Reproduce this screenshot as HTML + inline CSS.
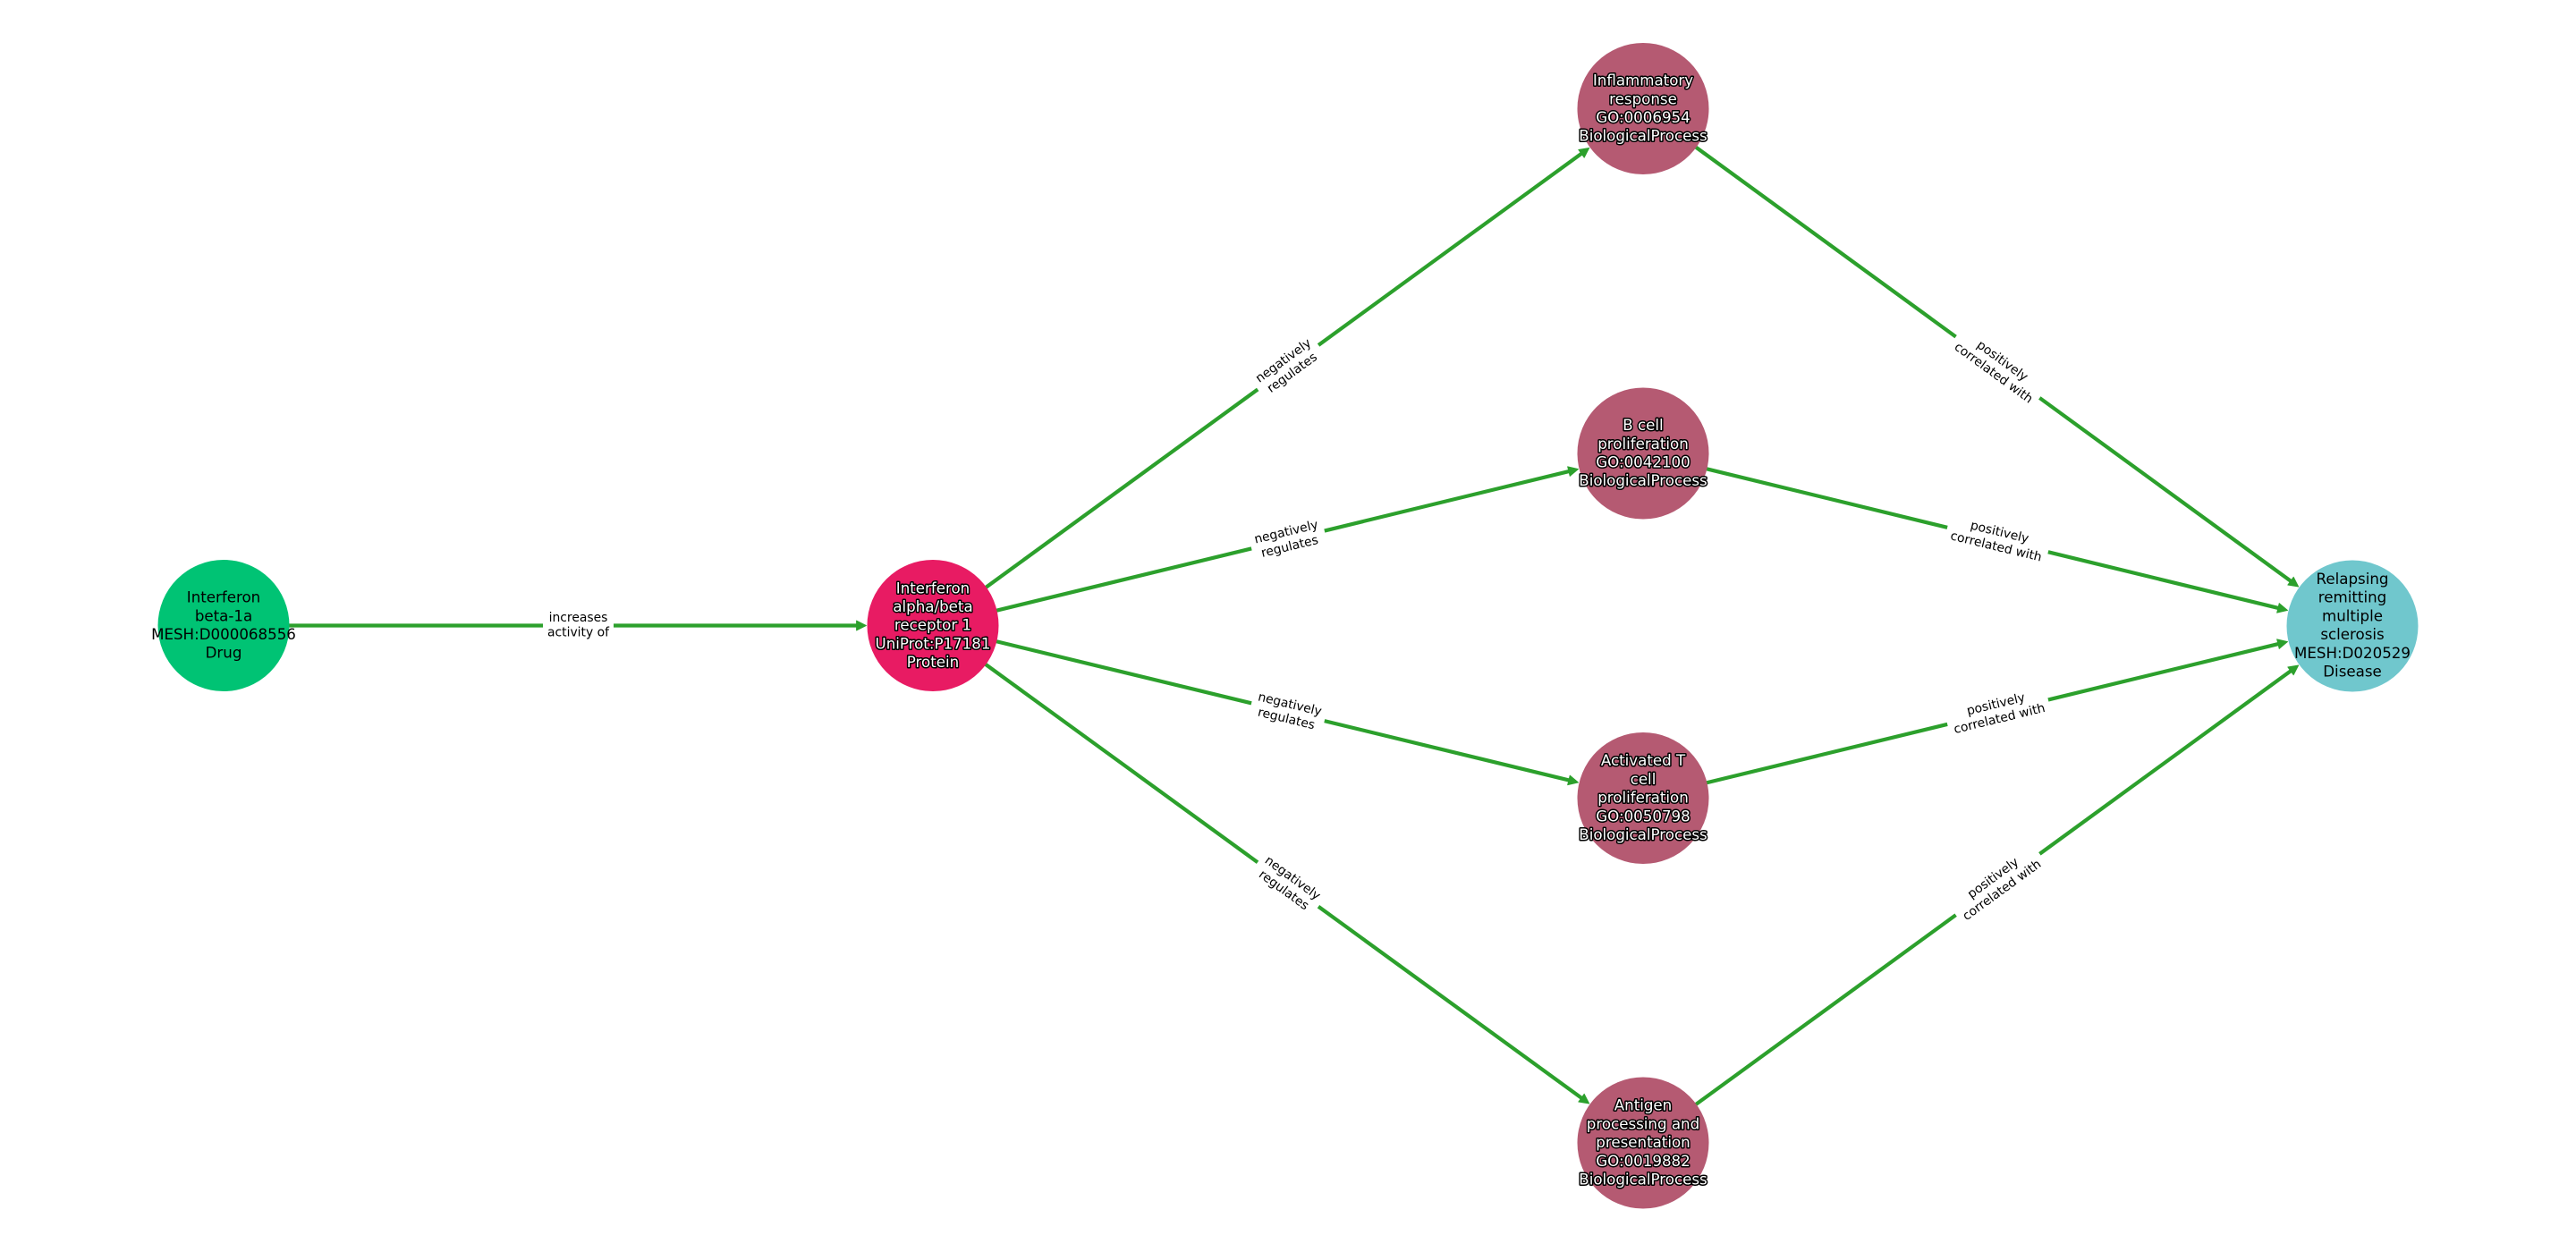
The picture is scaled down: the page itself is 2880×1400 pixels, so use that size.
<!DOCTYPE html>
<html>
<head>
<meta charset="utf-8">
<style>
html,body{margin:0;padding:0;background:#fff;}
svg{display:block;}
text{font-family:"DejaVu Sans","Liberation Sans",sans-serif;text-anchor:middle;}
.n{font-size:16.67px;fill:#000;}
.w{font-size:16.67px;fill:#fff;stroke:#000;stroke-width:3px;paint-order:stroke;stroke-linejoin:round;}
.e{font-size:13.89px;fill:#000;}
line{stroke:#2ca02c;stroke-width:4.2px;marker-end:url(#a);}
</style>
</head>
<body>
<svg xmlns="http://www.w3.org/2000/svg" width="2880" height="1400" viewBox="0 0 2880 1400">
<defs>
<marker id="a" markerUnits="userSpaceOnUse" markerWidth="24" markerHeight="24" refX="10.5" refY="12" orient="auto">
<path d="M4.5,6.5 L15.5,12 L4.5,17.5 Z" fill="#2ca02c" stroke="#2ca02c" stroke-width="0.8" stroke-linejoin="round"/>
</marker>
</defs>
<rect width="2880" height="1400" fill="#fff"/>

<line x1="250" y1="699.5" x2="963.5" y2="699.5"/>
<line x1="1043" y1="700" x2="1772.8" y2="168.3"/>
<line x1="1043" y1="700" x2="1759.7" y2="525.7"/>
<line x1="1043" y1="700" x2="1759.7" y2="873.8"/>
<line x1="1043" y1="700" x2="1772.8" y2="1231.2"/>
<line x1="1837" y1="121.5" x2="2565.8" y2="653.2"/>
<line x1="1837" y1="507" x2="2552.7" y2="681.3"/>
<line x1="1837" y1="892.5" x2="2552.7" y2="718.7"/>
<line x1="1837" y1="1278" x2="2565.8" y2="746.8"/>

<g transform="translate(646.5,699.5)"><rect x="-39.5" y="-17" width="79" height="35" fill="#fff"/><text class="e" y="-4.5">increases</text><text class="e" y="12.2">activity of</text></g>
<g transform="translate(1440,410.5) rotate(-36.1)"><rect x="-42" y="-17" width="84" height="35" fill="#fff"/><text class="e" y="-4.5">negatively</text><text class="e" y="12.2">regulates</text></g>
<g transform="translate(1440,603.5) rotate(-13.6)"><rect x="-42" y="-17" width="84" height="35" fill="#fff"/><text class="e" y="-4.5">negatively</text><text class="e" y="12.2">regulates</text></g>
<g transform="translate(1440,796) rotate(13.6)"><rect x="-42" y="-17" width="84" height="35" fill="#fff"/><text class="e" y="-4.5">negatively</text><text class="e" y="12.2">regulates</text></g>
<g transform="translate(1440,989) rotate(36.1)"><rect x="-42" y="-17" width="84" height="35" fill="#fff"/><text class="e" y="-4.5">negatively</text><text class="e" y="12.2">regulates</text></g>
<g transform="translate(2233.5,410.7) rotate(36.1)"><rect x="-58" y="-17" width="116" height="35" fill="#fff"/><text class="e" y="-4.5">positively</text><text class="e" y="12.2">correlated with</text></g>
<g transform="translate(2233.5,603.5) rotate(13.6)"><rect x="-58" y="-17" width="116" height="35" fill="#fff"/><text class="e" y="-4.5">positively</text><text class="e" y="12.2">correlated with</text></g>
<g transform="translate(2233.5,796) rotate(-13.6)"><rect x="-58" y="-17" width="116" height="35" fill="#fff"/><text class="e" y="-4.5">positively</text><text class="e" y="12.2">correlated with</text></g>
<g transform="translate(2233.5,989) rotate(-36.1)"><rect x="-58" y="-17" width="116" height="35" fill="#fff"/><text class="e" y="-4.5">positively</text><text class="e" y="12.2">correlated with</text></g>

<circle cx="250" cy="699.5" r="73.5" fill="#00c374"/>
<circle cx="1043" cy="699.5" r="73.5" fill="#e81b63"/>
<circle cx="1837" cy="121.5" r="73.5" fill="#b55a72"/>
<circle cx="1837" cy="507" r="73.5" fill="#b55a72"/>
<circle cx="1837" cy="892.5" r="73.5" fill="#b55a72"/>
<circle cx="1837" cy="1278" r="73.5" fill="#b55a72"/>
<circle cx="2630" cy="700" r="73.5" fill="#70c7cd"/>

<text class="n" y="673.6"><tspan x="250">Interferon</tspan><tspan x="250" dy="20.7">beta-1a</tspan><tspan x="250" dy="20.7">MESH:D000068556</tspan><tspan x="250" dy="20.7">Drug</tspan></text>
<text class="w" y="663.3"><tspan x="1043">Interferon</tspan><tspan x="1043" dy="20.7">alpha/beta</tspan><tspan x="1043" dy="20.7">receptor 1</tspan><tspan x="1043" dy="20.7">UniProt:P17181</tspan><tspan x="1043" dy="20.7">Protein</tspan></text>
<text class="w" y="95.6"><tspan x="1837">Inflammatory</tspan><tspan x="1837" dy="20.7">response</tspan><tspan x="1837" dy="20.7">GO:0006954</tspan><tspan x="1837" dy="20.7">BiologicalProcess</tspan></text>
<text class="w" y="481.1"><tspan x="1837">B cell</tspan><tspan x="1837" dy="20.7">proliferation</tspan><tspan x="1837" dy="20.7">GO:0042100</tspan><tspan x="1837" dy="20.7">BiologicalProcess</tspan></text>
<text class="w" y="856.2"><tspan x="1837">Activated T</tspan><tspan x="1837" dy="20.7">cell</tspan><tspan x="1837" dy="20.7">proliferation</tspan><tspan x="1837" dy="20.7">GO:0050798</tspan><tspan x="1837" dy="20.7">BiologicalProcess</tspan></text>
<text class="w" y="1241.7"><tspan x="1837">Antigen</tspan><tspan x="1837" dy="20.7">processing and</tspan><tspan x="1837" dy="20.7">presentation</tspan><tspan x="1837" dy="20.7">GO:0019882</tspan><tspan x="1837" dy="20.7">BiologicalProcess</tspan></text>
<text class="n" y="653"><tspan x="2630">Relapsing</tspan><tspan x="2630" dy="20.7">remitting</tspan><tspan x="2630" dy="20.7">multiple</tspan><tspan x="2630" dy="20.7">sclerosis</tspan><tspan x="2630" dy="20.7">MESH:D020529</tspan><tspan x="2630" dy="20.7">Disease</tspan></text>
</svg>
</body>
</html>
